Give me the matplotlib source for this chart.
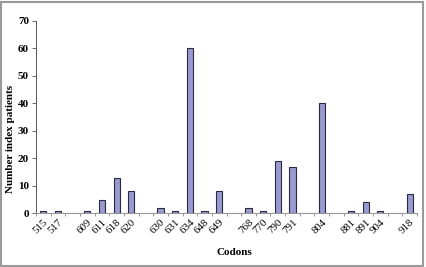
import numpy as np
import matplotlib
matplotlib.use("Agg")
import matplotlib.pyplot as plt
from matplotlib.patches import Rectangle

# data (empty strings are the blank category slots of the original chart)
codons = ['515', '517', '', '609', '611', '618', '620', '', '630', '631', '634', '648', '649', '',
          '768', '770', '790', '791', '', '804', '', '881', '891', '904', '', '918']
patients = [1, 1, None, 1, 5, 13, 8, None, 2, 1, 60, 1, 8, None,
            2, 1, 19, 17, None, 40, None, 1, 4, 1, None, 7]

plt.rcParams['font.family'] = ['Liberation Serif', 'DejaVu Serif']

fig = plt.figure(figsize=(4.26, 2.67), dpi=100)
ax = fig.add_axes([0.0845, 0.2004, 0.8945, 0.7221])

x = np.arange(len(codons))
xs = [i for i in x if patients[i] is not None]
ys = [patients[i] for i in xs]
ax.bar(xs, ys, width=0.42, color='#9a9ad2', edgecolor='#2a2a40', linewidth=0.8, zorder=3)

ax.set_xlim(-0.5, len(codons) - 0.5)
ax.set_ylim(0, 70)
ax.set_yticks(range(0, 71, 10))
ax.tick_params(axis='y', labelsize=8, length=3, width=0.6, color='#555555', pad=2)
for lab in ax.get_yticklabels():
    lab.set_fontweight('bold')

ax.set_xticks(x)
ax.set_xticklabels(codons, rotation=45, ha='right', rotation_mode='anchor',
                   fontsize=7.8)
ax.tick_params(axis='x', length=0, pad=3)
ax.set_xticks(np.arange(-0.5, len(codons), 1), minor=True)
ax.tick_params(axis='x', which='minor', length=2.5, width=0.6, color='#888888')

for s in ['top', 'right']:
    ax.spines[s].set_visible(False)
ax.spines['left'].set_color('#555555')
ax.spines['left'].set_linewidth(0.7)
ax.spines['bottom'].set_color('#999999')
ax.spines['bottom'].set_linewidth(0.8)

ax.set_xlabel('Codons', fontsize=8, fontweight='bold')
ax.xaxis.set_label_coords(0.52, -0.177)
ax.set_ylabel('Number index patients', fontsize=8, fontweight='bold')
ax.yaxis.set_label_coords(-0.056, 0.386)

# outer frame
fig.patches.append(Rectangle((0.003, 0.004), 0.99, 0.99, transform=fig.transFigure,
                             fill=False, edgecolor='#999999', linewidth=1.5))

fig.savefig('out.png', dpi=100)
